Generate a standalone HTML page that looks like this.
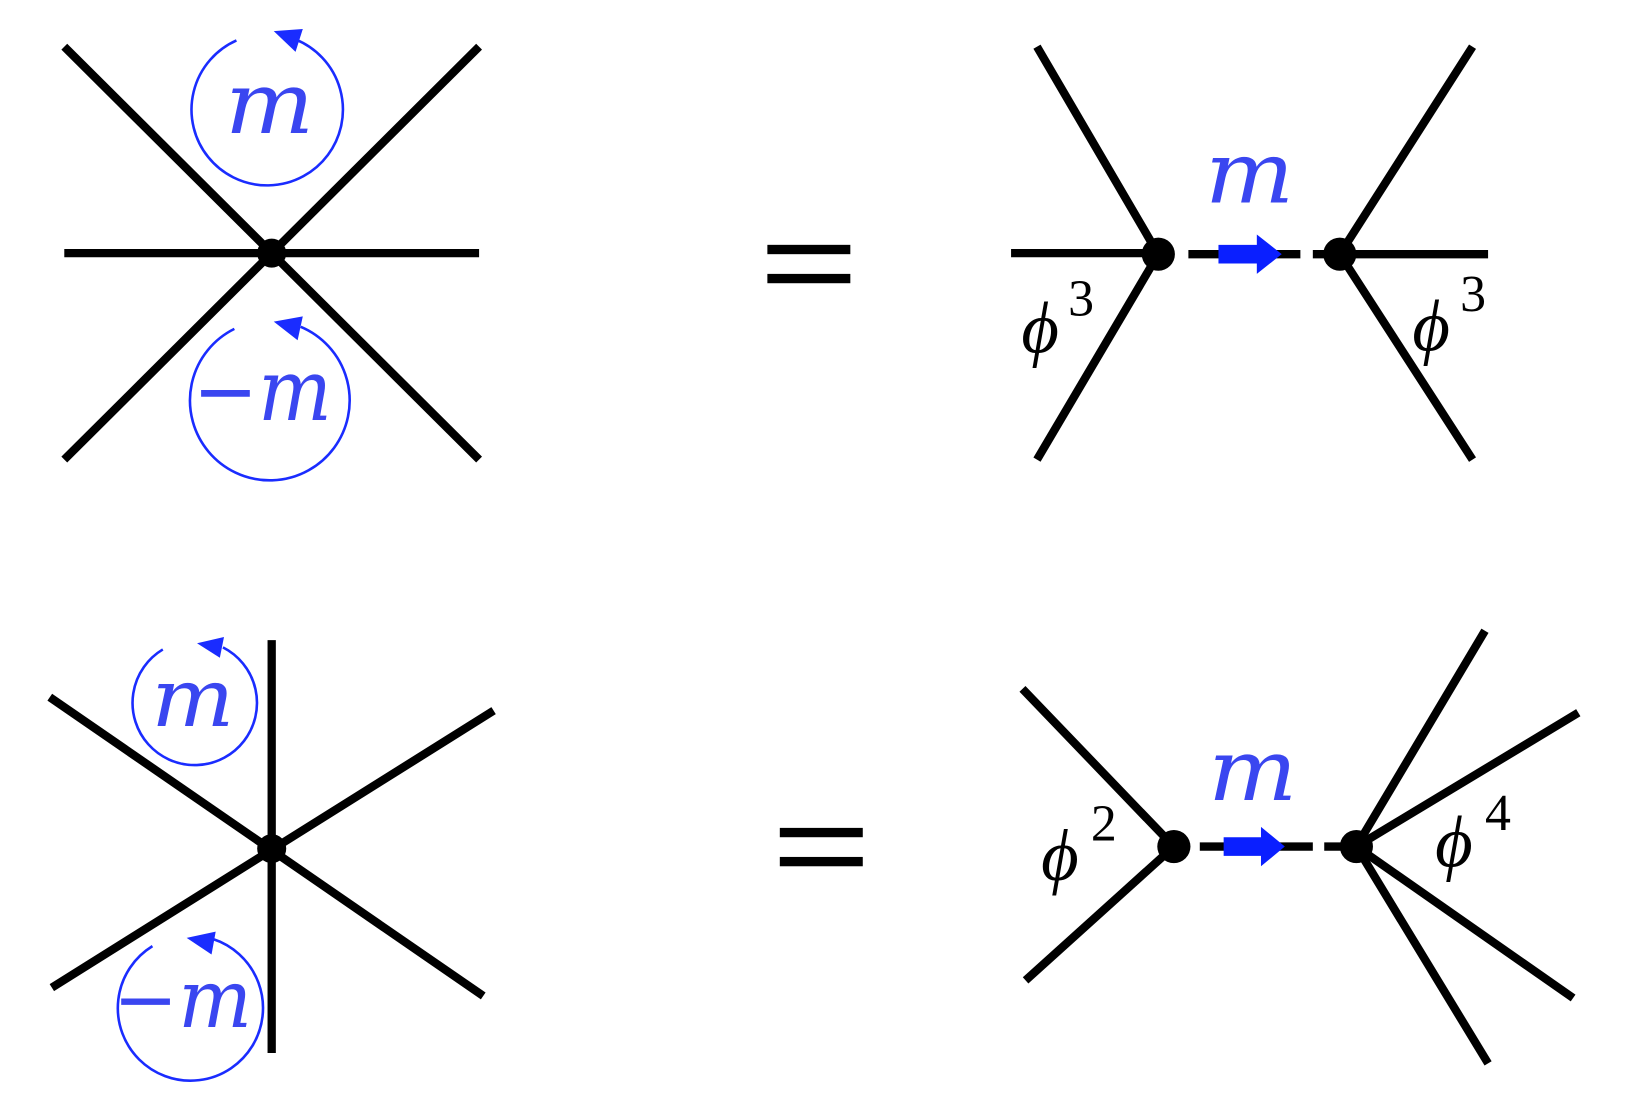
<!DOCTYPE html>
<html><head><style>html,body{margin:0;padding:0;background:#fff}svg{display:block}</style></head>
<body>
<svg width="1626" height="1108" viewBox="0 0 1568 1068" preserveAspectRatio="none" xmlns="http://www.w3.org/2000/svg">
<g stroke="#000" stroke-width="8" fill="none">
<line x1="62" y1="45" x2="462" y2="443"/><line x1="462" y1="45" x2="62" y2="443"/><line x1="62" y1="244" x2="462" y2="244"/>
<line x1="1000" y1="45" x2="1117" y2="245"/><line x1="975" y1="244" x2="1117" y2="244"/><line x1="1000" y1="443" x2="1117" y2="245"/>
<line x1="1420" y1="45" x2="1292" y2="245"/><line x1="1435" y1="245" x2="1292" y2="245"/><line x1="1420" y1="443" x2="1292" y2="245"/>
<line x1="1146" y1="245" x2="1254" y2="245"/><line x1="1266" y1="245" x2="1292" y2="245"/>
<line x1="262" y1="617" x2="262" y2="1015"/><line x1="48" y1="672" x2="466" y2="960"/><line x1="476" y1="685" x2="50" y2="952"/>
<line x1="986" y1="664" x2="1132" y2="816"/><line x1="989" y1="945" x2="1132" y2="816"/>
<line x1="1432" y1="608" x2="1308" y2="816"/><line x1="1522" y1="687" x2="1308" y2="816"/><line x1="1517" y1="962" x2="1308" y2="816"/><line x1="1435" y1="1025" x2="1308" y2="816"/>
<line x1="1157" y1="816" x2="1266" y2="816"/><line x1="1277" y1="816" x2="1308" y2="816"/>
</g>
<g fill="#000">
<circle cx="262" cy="244" r="14"/><circle cx="1117" cy="245" r="16"/><circle cx="1292" cy="245" r="16"/>
<circle cx="262" cy="818" r="14"/><circle cx="1132" cy="816" r="16"/><circle cx="1308" cy="816" r="16"/>
<rect x="740" y="236" width="80" height="9"/><rect x="740" y="264" width="80" height="9"/>
<rect x="752" y="798" width="80" height="9"/><rect x="752" y="826" width="80" height="9"/>
</g>
<g fill="#0a1fff">
<path d="M1175 236 H1212 V226 L1236 245 L1212 264 V254 H1175 Z"/>
<path d="M1180 807 H1216 V797 L1239 816 L1216 835 V825 H1180 Z"/>
</g>
<g stroke="#1a2cff" stroke-width="2.5" fill="none">
<path d="M228 39 A73 73 0 1 0 285 38"/>
<path d="M226 317 A77 77 0 1 0 290 315"/>
<path d="M157 626 A60 60 0 1 0 215 624"/>
<path d="M147 912 A70 70 0 1 0 205 905"/>
</g>
<g fill="#1a2cff">
<path d="M264 30 L292 28 L285 50 Z"/>
<path d="M264 310 L292 305 L287 328 Z"/>
<path d="M190 620 L216 614 L212 634 Z"/>
<path d="M180 904 L208 898 L204 920 Z"/>
</g>
<g font-family="'DejaVu Serif',serif" font-style="italic" fill="#3a46f0">
<text x="260" y="128" font-size="82" text-anchor="middle" textLength="86" lengthAdjust="spacingAndGlyphs">m</text>
<text x="253" y="405" font-size="82" text-anchor="middle" textLength="134" lengthAdjust="spacingAndGlyphs">−m</text>
<text x="1205" y="195" font-size="82" text-anchor="middle" textLength="86" lengthAdjust="spacingAndGlyphs">m</text>
<text x="186" y="700" font-size="78" text-anchor="middle" textLength="80" lengthAdjust="spacingAndGlyphs">m</text>
<text x="176" y="990" font-size="78" text-anchor="middle" textLength="134" lengthAdjust="spacingAndGlyphs">−m</text>
<text x="1208" y="771" font-size="82" text-anchor="middle" textLength="86" lengthAdjust="spacingAndGlyphs">m</text>
</g>
<g font-family="'Liberation Serif',serif" fill="#000">
<text x="985" y="340" font-size="70" font-style="italic">ϕ</text><text x="1030" y="304" font-size="50">3</text>
<text x="1362" y="338" font-size="70" font-style="italic">ϕ</text><text x="1408" y="300" font-size="50">3</text>
<text x="1004" y="848" font-size="70" font-style="italic">ϕ</text><text x="1052" y="810" font-size="50">2</text>
<text x="1384" y="835" font-size="70" font-style="italic">ϕ</text><text x="1432" y="800" font-size="50">4</text>
</g>
</svg>
</body></html>
